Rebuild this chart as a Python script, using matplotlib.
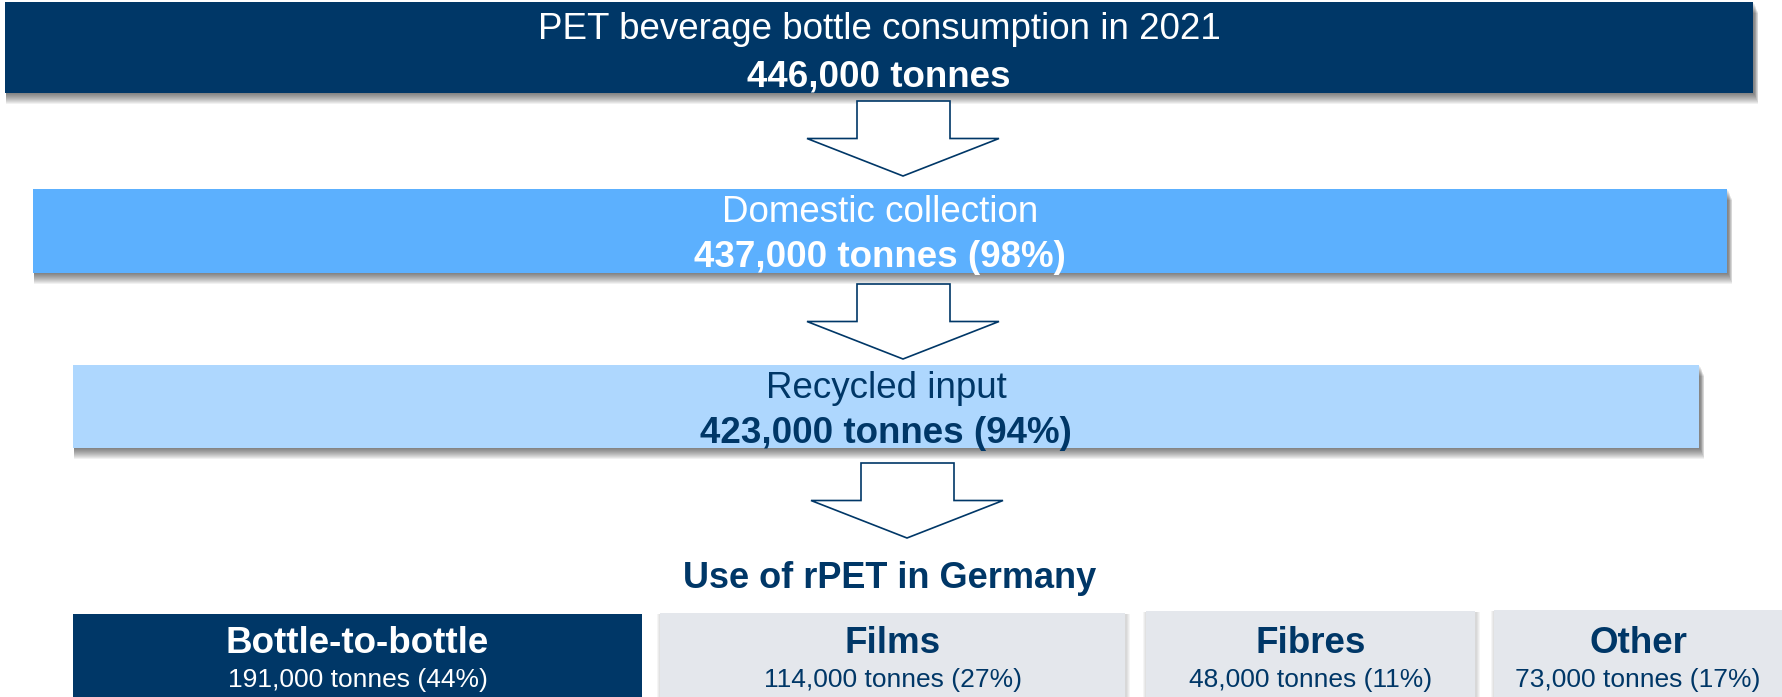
import matplotlib.pyplot as plt
from matplotlib.patches import Rectangle, Polygon

plt.rcParams['font.family'] = ['Liberation Sans', 'DejaVu Sans']

# flow stages (consumption -> collection -> recycling)
stage_titles = ["PET beverage bottle consumption in 2021", "Domestic collection", "Recycled input"]
stage_tonnes = [446000, 437000, 423000]
stage_pct = [None, 98, 94]

# uses of rPET
use_title = "Use of rPET in Germany"
use_names = ["Bottle-to-bottle", "Films", "Fibres", "Other"]
use_tonnes = [191000, 114000, 48000, 73000]
use_pct = [44, 27, 11, 17]

NAVY = "#003767"
stage_colors = [NAVY, "#5CB0FE", "#AED7FE"]
stage_text = ["white", "white", NAVY]
use_colors = [NAVY, "#E4E7EC", "#E4E7EC", "#E4E7EC"]
use_text = ["white", NAVY, NAVY, NAVY]

# layout in pixels (x0, x1, y0, y1), y downwards
stage_boxes = [(5, 1753, 2, 93), (33, 1727, 189, 273), (73, 1699, 365, 448)]
stage_base = [(39, 86), (222, 267), (398, 443)]
arrows = [(903, 101, 176), (903, 284, 359), (907, 463, 538)]  # center x, top, tip
use_boxes = [(73, 642, 614), (660, 1125, 613), (1146, 1475, 611), (1494, 1790, 610)]

fig = plt.figure(figsize=(17.82, 6.97), dpi=100)
ax = fig.add_axes([0, 0, 1, 1])
ax.set_xlim(0, 1782)
ax.set_ylim(697, 0)
ax.axis('off')


def shadow(x0, x1, y0, y1):
    # soft drop shadow: stacked translucent rectangles shifted down
    for k in range(1, 12):
        ax.add_patch(Rectangle((x0 + 1, y0 + k), x1 - x0 + 0.4 * k, y1 - y0,
                               facecolor="black", alpha=0.055, lw=0, zorder=1))


for i, (x0, x1, y0, y1) in enumerate(stage_boxes):
    shadow(x0, x1, y0, y1)
    ax.add_patch(Rectangle((x0, y0), x1 - x0, y1 - y0, facecolor=stage_colors[i], lw=0, zorder=2))
    xc = (x0 + x1) / 2
    b1, b2 = stage_base[i]
    ax.text(xc, b1, stage_titles[i], ha='center', va='baseline', fontsize=26.5,
            color=stage_text[i], zorder=3)
    val = f"{stage_tonnes[i]:,} tonnes"
    if stage_pct[i] is not None:
        val += f" ({stage_pct[i]}%)"
    ax.text(xc, b2, val, ha='center', va='baseline', fontsize=26.5, fontweight='bold',
            color=stage_text[i], zorder=3)

# block arrows
for xc, top, tip in arrows:
    shoulder = top + 0.5 * (tip - top)
    pts = [(xc - 46, top), (xc + 47, top), (xc + 47, shoulder), (xc + 96, shoulder),
           (xc, tip), (xc - 96, shoulder), (xc - 46, shoulder)]
    ax.add_patch(Polygon(pts, closed=True, facecolor="white", edgecolor=NAVY, lw=1.2, zorder=2))

ax.text(890, 588, use_title, ha='center', va='baseline', fontsize=26, fontweight='bold', color=NAVY)

for i, (x0, x1, y0) in enumerate(use_boxes):
    y1 = 705
    if i > 0:
        for k in range(1, 5):
            ax.add_patch(Rectangle((x0 - k + 1, y0 + 1), x1 - x0 + 2 * k, y1 - y0,
                                   facecolor="black", alpha=0.04, lw=0, zorder=1))
    ax.add_patch(Rectangle((x0, y0), x1 - x0, y1 - y0, facecolor=use_colors[i], lw=0, zorder=2))
    xc = (x0 + min(x1, 1782)) / 2
    ax.text(xc, 653, use_names[i], ha='center', va='baseline', fontsize=26.5, fontweight='bold',
            color=use_text[i], zorder=3)
    ax.text(xc, 687, f"{use_tonnes[i]:,} tonnes ({use_pct[i]}%)", ha='center', va='baseline',
            fontsize=19, color=use_text[i], zorder=3)

fig.savefig("out.png", dpi=100)
